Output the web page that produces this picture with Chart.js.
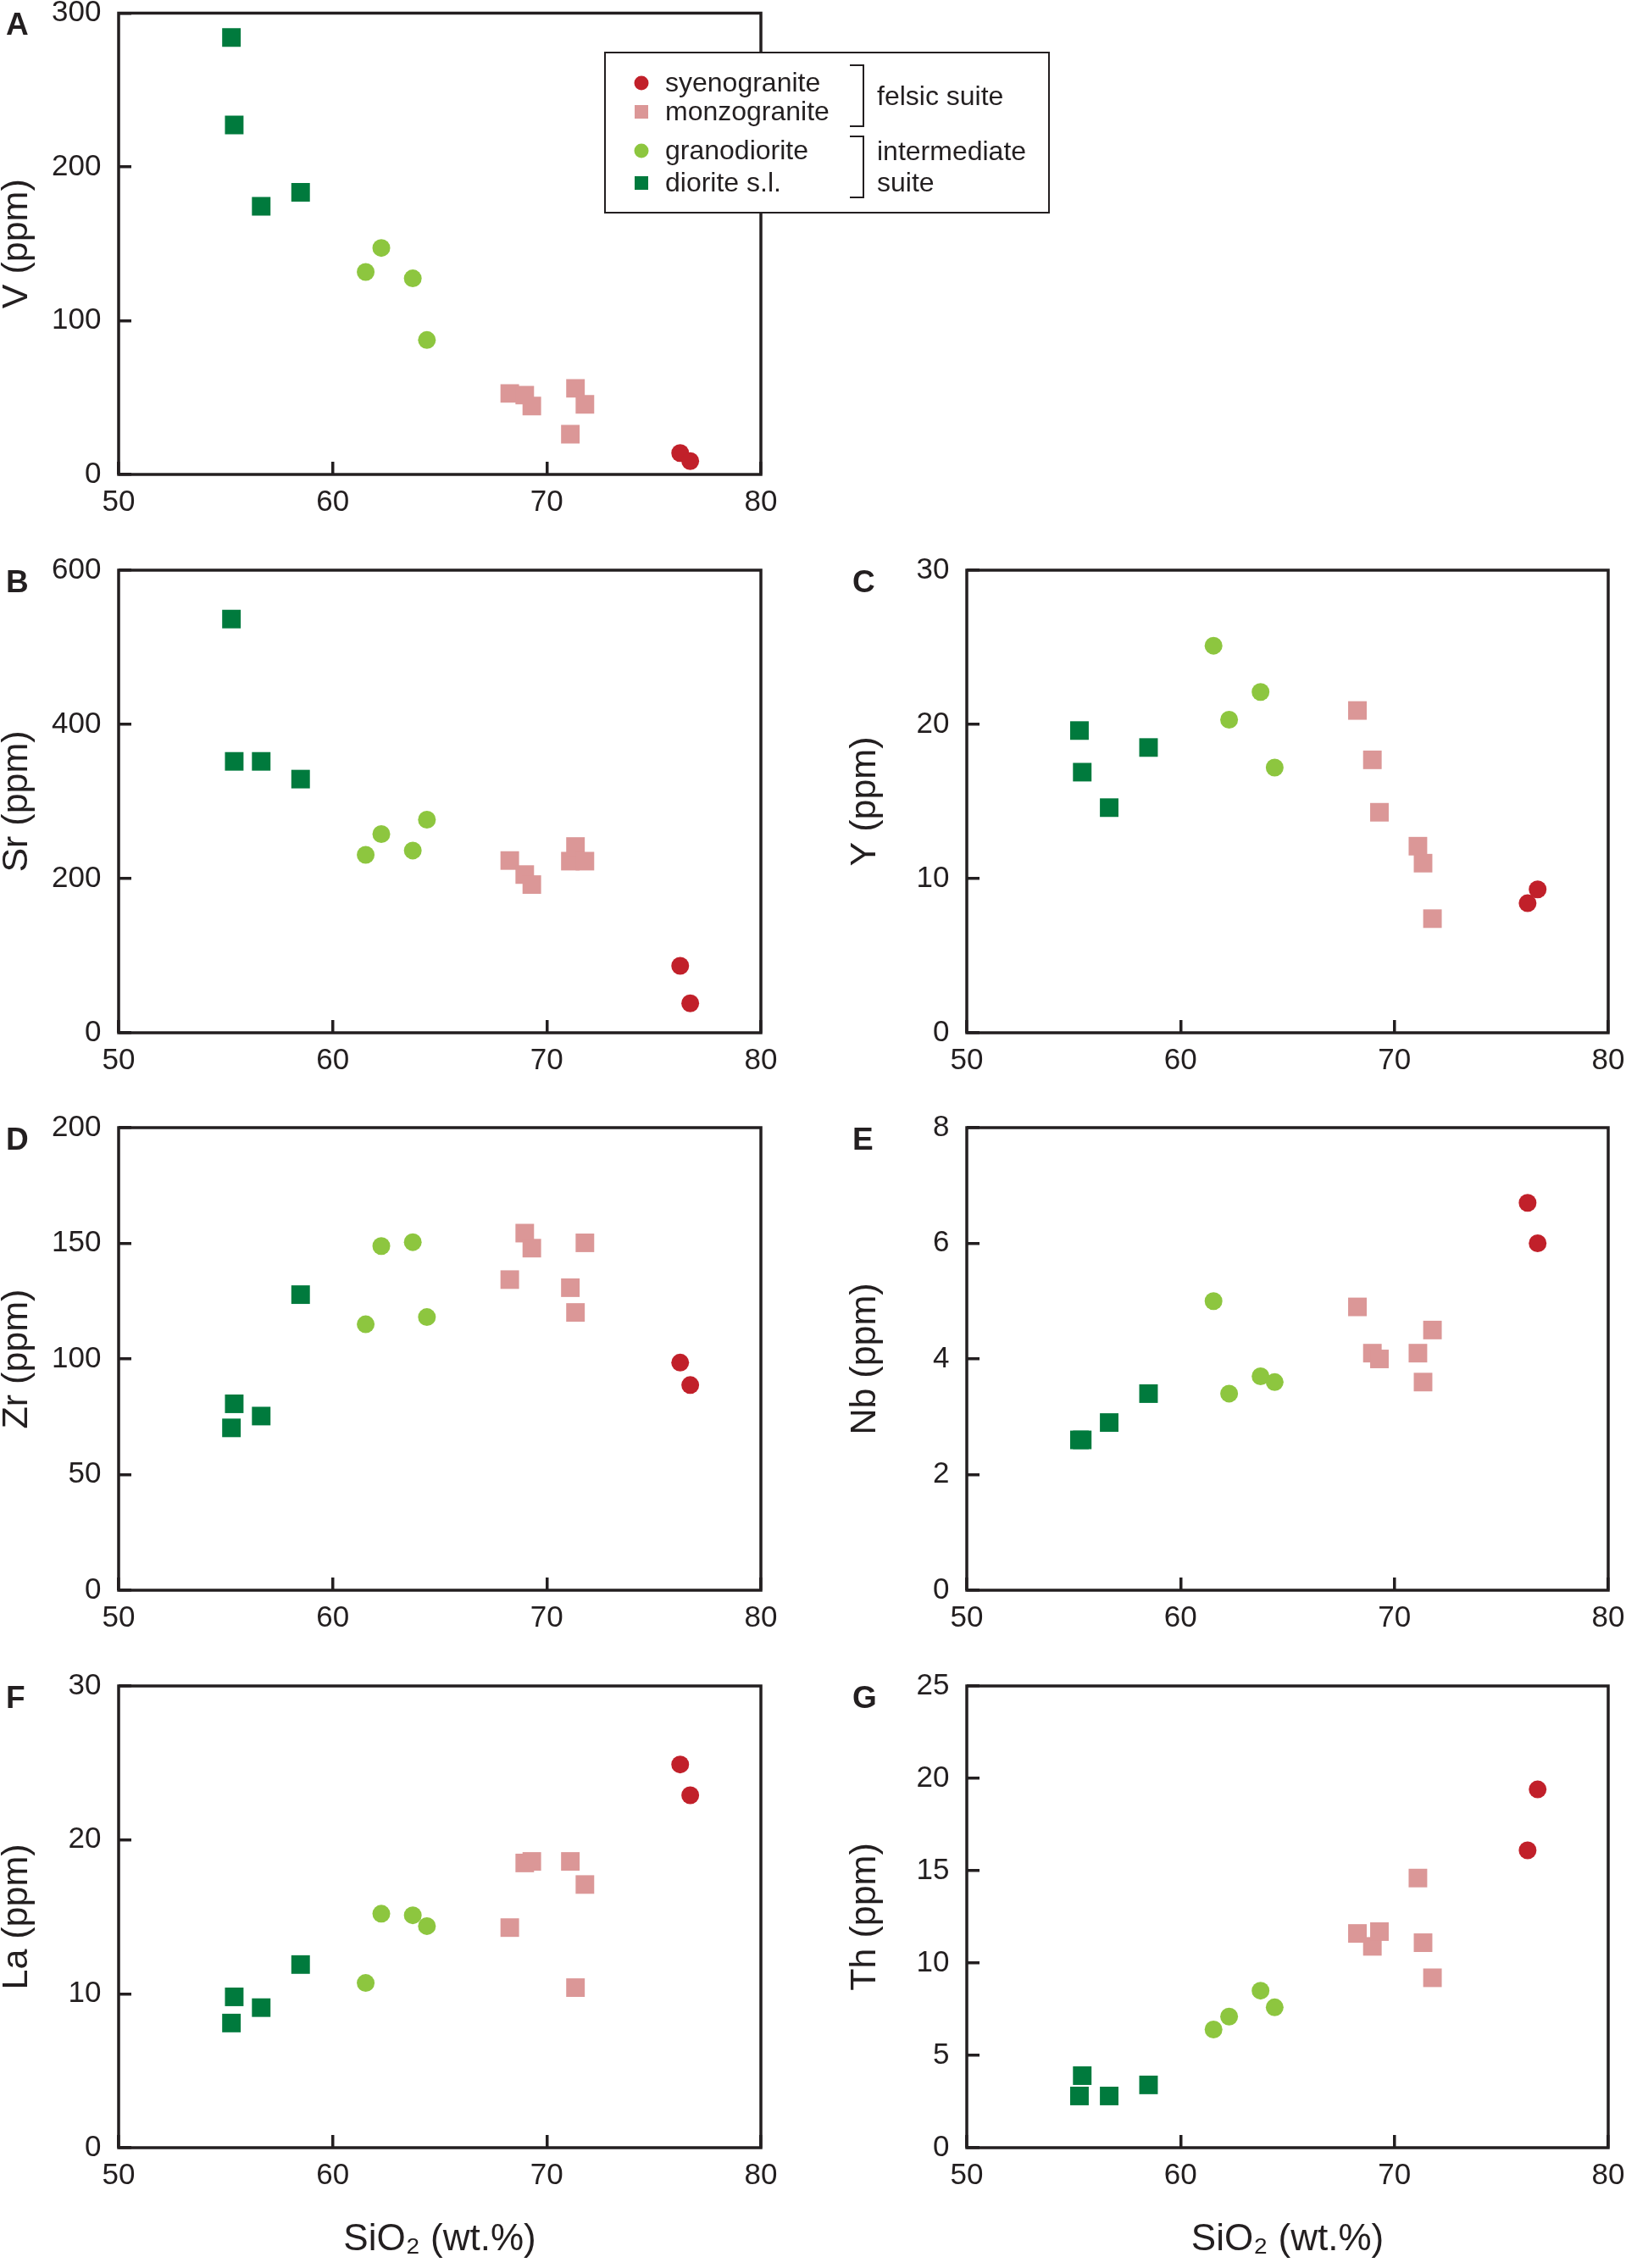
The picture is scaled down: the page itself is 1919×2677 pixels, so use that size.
<!DOCTYPE html>
<html lang="en">
<head>
<meta charset="UTF-8">
<title>Trace elements vs SiO2</title>
<style>
  html, body { margin: 0; padding: 0; background: #fff; }
  #wrap { position: relative; width: 1919px; height: 2677px; overflow: hidden; background: #fff; }
  #wrap canvas { position: absolute; }
</style>
<script src="https://cdn.jsdelivr.net/npm/chart.js"></script>
</head>
<body>
<div id="wrap"></div>
<script>
// samples ordered: syenogranite x2, monzogranite x6, granodiorite x4, diorite s.l. x4
const sio2 = [76.23, 76.70, 68.27, 68.97, 69.30, 71.10, 71.34, 71.78, 61.54, 62.27, 63.74, 64.40, 55.27, 55.40, 56.66, 58.50];
const groupNames = ['syenogranite', 'monzogranite', 'granodiorite', 'diorite s.l.'];
const groupSizes = [2, 6, 4, 4];

const V  = [13.9, 8.7, 52.7, 51.6, 44.5, 26.2, 56.0, 45.6, 131.7, 147.3, 127.5, 87.4, 284.2, 227.3, 174.4, 183.5];
const Sr = [86.8, 38.2, 223.4, 205.2, 192.2, 222.6, 241.6, 222.6, 230.8, 257.7, 236.4, 276.4, 536.6, 352.0, 352.0, 329.0];
const Y  = [8.4, 9.3, 20.9, 17.7, 14.3, 12.1, 11.0, 7.4, 25.1, 20.3, 22.1, 17.2, 19.6, 16.9, 14.6, 18.5];
const Zr = [98.4, 88.7, 134.3, 154.4, 147.9, 130.8, 120.1, 150.2, 115.0, 148.8, 150.5, 118.1, 70.2, 80.6, 75.3, 127.8];
const Nb = [6.7, 6.0, 4.9, 4.1, 4.0, 4.1, 3.6, 4.5, 5.0, 3.4, 3.7, 3.6, 2.6, 2.6, 2.9, 3.4];
const La = [24.9, 22.9, 14.3, 18.5, 18.6, 18.6, 10.4, 17.1, 10.7, 15.2, 15.1, 14.4, 8.1, 9.8, 9.1, 11.9];
const Th = [16.1, 19.4, 11.6, 10.9, 11.7, 14.6, 11.1, 9.2, 6.4, 7.1, 8.5, 7.6, 2.8, 3.9, 2.8, 3.4];

const panelLetters = ['A', 'B', 'C', 'D', 'E', 'F', 'G'];
const panelElements = ['V', 'Sr', 'Y', 'Zr', 'Nb', 'La', 'Th'];
const panelValues = [V, Sr, Y, Zr, Nb, La, Th];
const yMax = [300, 600, 30, 200, 8, 30, 25];
const yStep = [100, 200, 10, 50, 2, 10, 5];
const xMin = 50, xMax = 80, xStep = 10;

const groupColors = ['#c1202a', '#db9797', '#8dc63f', '#007a3d'];
const groupShapes = ['circle', 'rect', 'circle', 'rect'];
const ink = '#231f20';

// plot frames on the page: left, top, right, bottom
const boxes = [
  [140, 14, 898, 560],
  [140, 673, 898, 1219],
  [1141, 673, 1898, 1219],
  [140, 1331, 898, 1877],
  [1141, 1331, 1898, 1877],
  [140, 1990, 898, 2535],
  [1141, 1990, 1898, 2535]
];

Chart.defaults.font.family = "Arial, 'Liberation Sans', sans-serif";
Chart.defaults.color = ink;

const framePlugin = {
  id: 'frame',
  beforeDatasetsDraw(chart) {
    const { ctx, chartArea: a } = chart;
    ctx.save();
    ctx.strokeStyle = ink;
    ctx.lineWidth = 3.5;
    ctx.strokeRect(a.left, a.top, a.right - a.left, a.bottom - a.top);
    ctx.restore();
  },
  afterDraw(chart, args, opts) {
    const ctx = chart.ctx;
    ctx.save();
    ctx.fillStyle = ink;
    ctx.font = "bold 37px Arial, 'Liberation Sans', sans-serif";
    ctx.textBaseline = 'top';
    ctx.fillText(opts.letter, opts.x, chart.chartArea.top - 3);
    ctx.restore();
  }
};

// legend box of panel A (sits over the right frame line)
const suiteLegend = {
  id: 'suiteLegend',
  afterDraw(chart, args, opts) {
    if (!opts.show) return;
    const ctx = chart.ctx;
    ctx.save();
    ctx.fillStyle = '#fff';
    ctx.fillRect(714, 62, 524, 189);
    ctx.strokeStyle = ink;
    ctx.lineWidth = 2;
    ctx.strokeRect(714, 62, 524, 189);

    const rows = [98, 132, 178, 216];
    ctx.font = "32px Arial, 'Liberation Sans', sans-serif";
    ctx.textBaseline = 'middle';
    groupNames.forEach((name, g) => {
      ctx.fillStyle = groupColors[g];
      if (groupShapes[g] === 'circle') {
        ctx.beginPath();
        ctx.arc(757, rows[g], 8.5, 0, Math.PI * 2);
        ctx.fill();
      } else {
        ctx.fillRect(749, rows[g] - 8, 16, 16);
      }
      ctx.fillStyle = ink;
      ctx.fillText(name, 785, rows[g] + 1);
    });

    ctx.lineWidth = 2;
    ctx.beginPath();
    ctx.moveTo(1003, 77); ctx.lineTo(1019, 77); ctx.lineTo(1019, 149); ctx.lineTo(1003, 149);
    ctx.moveTo(1003, 161); ctx.lineTo(1019, 161); ctx.lineTo(1019, 233); ctx.lineTo(1003, 233);
    ctx.stroke();

    ctx.fillText('felsic suite', 1035, 115);
    ctx.fillText('intermediate', 1035, 180);
    ctx.fillText('suite', 1035, 217);
    ctx.restore();
  }
};

const wrap = document.getElementById('wrap');

panelValues.forEach((vals, i) => {
  const [pl, pt, pr, pb] = boxes[i];
  const rightCol = pl > 960;
  const bottomRow = i >= 5;
  const cLeft = rightCol ? 960 : 0;
  const cTop = i === 0 ? 0 : pt - 24;
  const cW = i === 0 ? 1260 : (rightCol ? 959 : 960);
  const xH = bottomRow ? 131 : 62;
  const cH = pb - cTop + xH;

  const canvas = document.createElement('canvas');
  canvas.width = cW;
  canvas.height = cH;
  canvas.style.left = cLeft + 'px';
  canvas.style.top = cTop + 'px';
  canvas.style.width = cW + 'px';
  canvas.style.height = cH + 'px';
  wrap.appendChild(canvas);

  let start = 0;
  const datasets = groupNames.map((name, g) => {
    const pts = [];
    for (let k = start; k < start + groupSizes[g]; k++) pts.push({ x: sio2[k], y: vals[k] });
    start += groupSizes[g];
    const r = groupShapes[g] === 'rect' ? 15.5 : 10.5;
    return {
      label: name,
      data: pts,
      backgroundColor: groupColors[g],
      borderWidth: 0,
      pointStyle: groupShapes[g],
      pointRadius: r,
      pointHoverRadius: r
    };
  });

  const gridOpts = { drawOnChartArea: false, drawTicks: true, tickLength: -15, color: ink, lineWidth: 3.5 };

  new Chart(canvas, {
    type: 'scatter',
    data: { datasets },
    plugins: [framePlugin, suiteLegend],
    options: {
      responsive: false,
      animation: false,
      layout: { padding: { left: 0, top: pt - cTop, right: cW - (pr - cLeft), bottom: 0 } },
      plugins: {
        legend: { display: false },
        tooltip: { enabled: false },
        frame: { letter: panelLetters[i], x: rightCol ? 46 : 7 },
        suiteLegend: { show: i === 0 }
      },
      scales: {
        x: {
          type: 'linear',
          min: xMin,
          max: xMax,
          ticks: { stepSize: xStep, padding: 27, color: ink, font: { size: 35 } },
          grid: gridOpts,
          border: { display: false },
          title: {
            display: bottomRow,
            text: 'SiO₂ (wt.%)',
            color: ink,
            font: { size: 44, lineHeight: 1 },
            padding: { top: 0, bottom: 0 }
          },
          afterFit: s => { s.height = xH; s.paddingLeft = 0; s.paddingRight = 0; }
        },
        y: {
          type: 'linear',
          min: 0,
          max: yMax[i],
          ticks: { stepSize: yStep[i], padding: 35.5, color: ink, font: { size: 35 } },
          grid: gridOpts,
          border: { display: false },
          title: {
            display: true,
            text: panelElements[i] + ' (ppm)',
            color: ink,
            font: { size: 43, lineHeight: 1 },
            padding: { top: rightCol ? 40 : -1, bottom: 0 }
          },
          afterFit: s => { s.width = pl - cLeft; s.paddingTop = 0; s.paddingBottom = 0; }
        }
      }
    }
  });
});
</script>
</body>
</html>
